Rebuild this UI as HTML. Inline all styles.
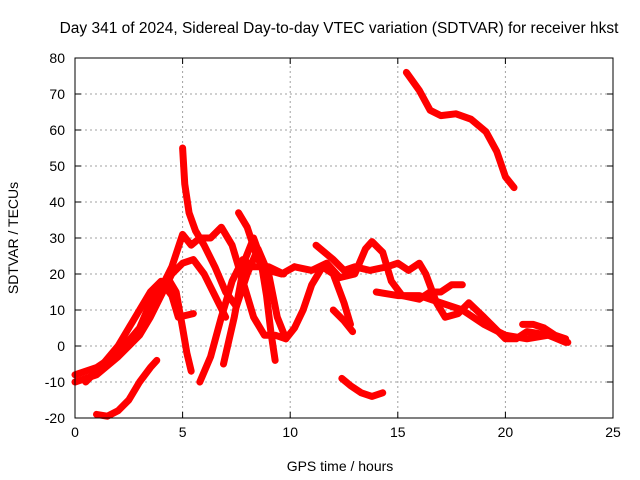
<!DOCTYPE html>
<html><head><meta charset="utf-8"><style>
html,body{margin:0;padding:0;background:#fff;}
svg{display:block;font-family:"Liberation Sans",sans-serif;}
</style></head><body>
<svg id="chart" width="640" height="480">
<text x="339" y="33" font-size="15.5" text-anchor="middle">Day 341 of 2024, Sidereal Day-to-day VTEC variation (SDTVAR) for receiver hkst</text>
<text x="340" y="471" font-size="14" text-anchor="middle">GPS time / hours</text>
<text x="0" y="0" font-size="14" text-anchor="middle" transform="translate(18,238) rotate(-90)">SDTVAR / TECUs</text>
<g id="grid"></g>
<g id="ticks"></g>
<g id="series"></g>
<rect x="75" y="58" width="538" height="360" fill="none" stroke="#000" stroke-width="1"/>
</svg>
<script>
const xTicks=[0,5,10,15,20,25];
const yTicks=[-20,-10,0,10,20,30,40,50,60,70,80];
const trackTopRight=[[15.4,76],[16.0,71],[16.5,65.5],[17.0,64],[17.7,64.5],[18.4,63],[19.1,59.5],[19.6,54],[20.0,47],[20.4,44]];
const trackA=[[0,-8],[1,-6],[2,-2],[3,5],[3.5,12],[4,16],[4.5,22],[5,31],[5.4,28],[5.8,30],[6.3,30],[6.8,33],[7.3,28],[7.8,18],[8.3,8],[8.8,3],[9.3,3],[9.8,2],[10.2,5],[10.6,10],[11,17],[11.5,22],[12,20],[12.5,12],[12.8,6]];
const trackB=[[5.0,55],[5.1,45],[5.3,37],[5.6,32],[6,28],[6.5,22],[7,15],[7.5,11],[8,20],[8.5,27],[9,20],[9.4,8],[9.8,2]];
const trackC=[[4.4,18],[4.7,15],[5.0,5],[5.2,-2],[5.4,-7]];
const trackD=[[5.8,-10],[6.3,-3],[6.8,8],[7.3,18],[7.8,24],[8.3,22],[9,22],[9.7,20]];
const trackE=[[6.9,-5],[7.4,8],[7.9,24],[8.3,30],[8.6,25],[8.9,14],[9.1,4],[9.3,-4]];
const trackE2=[[7.6,37],[8.0,33],[8.5,24],[9.0,21],[9.6,20],[10.2,22]];
const trackF=[[1.0,-19],[1.5,-19.5],[2,-18],[2.5,-15],[3,-10],[3.5,-6],[3.8,-4]];
const trackG=[[12.4,-9],[12.8,-11],[13.3,-13],[13.8,-14],[14.3,-13]];
const trackH=[[10.2,22],[11,21],[11.7,23],[12.3,19],[13,20],[13.5,27],[13.8,29],[14.3,26],[14.7,18],[15.2,14],[16,13],[16.5,15],[17,15],[17.5,17],[18,17]];
const trackI=[[11.2,28],[12,24],[12.5,21],[13,22],[13.7,21],[14.5,22],[15,23],[15.5,21],[16,23],[16.3,20],[16.8,12],[17.2,8],[17.8,9],[18.3,12],[19,8],[19.5,5],[20,2],[20.5,2],[21,4],[22,3],[22.9,1]];
const trackJ=[[14,15],[15,14],[16,14],[17,12],[18,10],[19,6],[20,3],[21,2],[22,3],[22.8,1]];
const trackK=[[0,-10],[1,-8],[2,-3],[2.5,0],[3,3],[3.5,8],[4,14],[4.5,20],[5,23],[5.5,24],[6,20],[6.5,14],[7,8]];
const trackL=[[0.5,-10],[1.3,-5],[2,0],[2.5,5],[3,10],[3.5,15],[4,18],[4.5,14],[4.8,8],[5.5,9]];
const trackO=[[20.8,6],[21.3,6],[21.8,5],[22.3,3],[22.8,2]];
const trackP=[[12,10],[12.5,7],[12.9,4]];
const tracks=[trackTopRight,trackA,trackB,trackC,trackD,trackE,trackE2,trackF,trackG,trackH,trackI,trackJ,trackK,trackL,trackO,trackP];
const X0=75,X1=613,Y0=418,Y1=58;
const sx=v=>X0+(v-0)/25*(X1-X0);
const sy=v=>Y0-(v+20)/100*(Y0-Y1);
const NS="http://www.w3.org/2000/svg";
const grid=document.getElementById('grid'),ticks=document.getElementById('ticks'),ser=document.getElementById('series');
function mk(tag,attrs,parent){const e=document.createElementNS(NS,tag);for(const k in attrs)e.setAttribute(k,attrs[k]);parent.appendChild(e);return e;}
xTicks.forEach(t=>{const x=sx(t);
 if(t>0&&t<25){const g=mk('line',{x1:x,x2:x,y1:Y0,y2:Y1,stroke:'#a0a0a0','stroke-dasharray':'2,3'},grid);
 
 }
 mk('line',{x1:x,x2:x,y1:Y0,y2:Y0-6,stroke:'#000'},ticks);
 mk('line',{x1:x,x2:x,y1:Y1,y2:Y1+6,stroke:'#000'},ticks);
 const l=mk('text',{x:x,y:Y0+19,'font-size':14,'text-anchor':'middle'},ticks);l.textContent=t;
 
 });
yTicks.forEach(t=>{const y=sy(t);
 if(t>-20&&t<80){const g=mk('line',{x1:X0,x2:X1,y1:y,y2:y,stroke:'#a0a0a0','stroke-dasharray':'2,3'},grid);
 
 }
 mk('line',{x1:X0,x2:X0+6,y1:y,y2:y,stroke:'#000'},ticks);
 mk('line',{x1:X1,x2:X1-6,y1:y,y2:y,stroke:'#000'},ticks);
 const l=mk('text',{x:X0-10,y:y+5,'font-size':14,'text-anchor':'end'},ticks);l.textContent=t;
 
 });
tracks.forEach(tr=>{
 const p=mk('polyline',{points:tr.map(d=>sx(d[0])+','+sy(d[1])).join(' '),fill:'none',stroke:'#ff0000','stroke-width':7,'stroke-linejoin':'round','stroke-linecap':'round'},ser);
 
 
});
</script>
</body></html>
